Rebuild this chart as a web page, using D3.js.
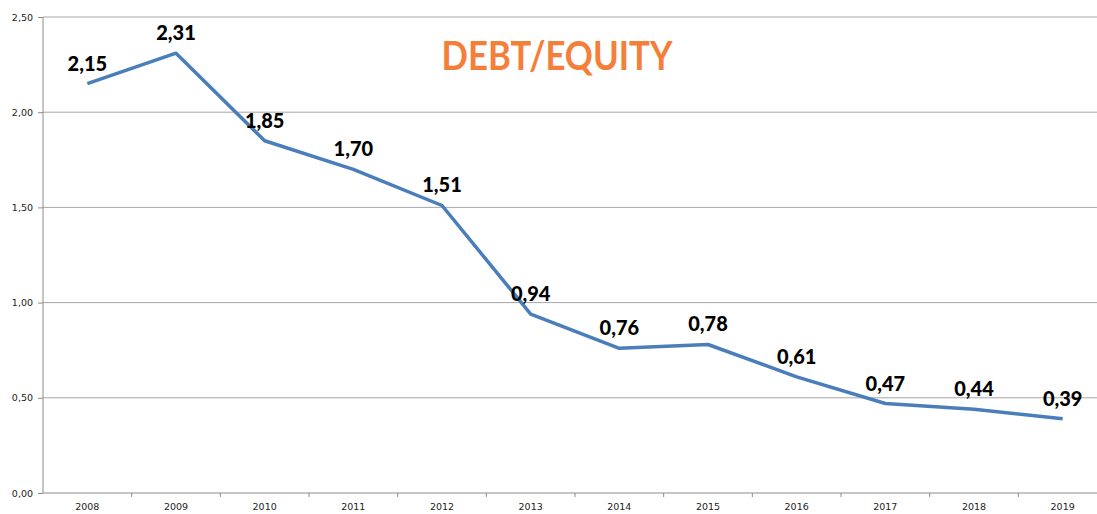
<!doctype html>
<html lang="en">
<head>
  <meta charset="UTF-8">
  <title>Debt/Equity</title>
  <script src="https://cdn.jsdelivr.net/npm/d3@7"></script>
  <style>
    body { margin: 0; background: #fff; }
    .axis text { font-family: "DejaVu Sans", sans-serif; font-size: 9.5px; fill: #222; }
    .axis path, .axis line { stroke: #8c8c8c; }
  </style>
</head>
<body>
<svg width="1097" height="514" id="chart"></svg>
<script>
  var years = ['2008', '2009', '2010', '2011', '2012', '2013', '2014', '2015', '2016', '2017', '2018', '2019'];
  var ratio = [2.15, 2.31, 1.85, 1.70, 1.51, 0.94, 0.76, 0.78, 0.61, 0.47, 0.44, 0.39];
  var yTicks = [0, 0.5, 1, 1.5, 2, 2.5];

  (function () {
    var svg = d3.select('#chart'),
      margin = {top: 17, right: -10, bottom: 21, left: 43},
      width = +svg.attr('width') - margin.left - margin.right,
      height = +svg.attr('height') - margin.top - margin.bottom;

    var x = d3.scaleBand().domain(years).range([0, width]),
      y = d3.scaleLinear().domain([0, 2.5]).range([height, 0]);
    var fmt = function (v) { return d3.format('.2f')(v).replace('.', ','); };

    var g = svg.append('g').attr('transform', 'translate(' + margin.left + ',' + margin.top + ')');

    // gridlines
    g.selectAll('.grid').data(yTicks.slice(1)).enter().append('line')
      .attr('x1', 0).attr('x2', width)
      .attr('y1', function (d) { return y(d); })
      .attr('y2', function (d) { return y(d); })
      .attr('stroke', '#a6a6a6').attr('stroke-width', 1);

    var yAxis = g.append('g').attr('class', 'axis')
      .call(d3.axisLeft(y).tickValues(yTicks).tickFormat(fmt).tickSize(5).tickPadding(5));
    yAxis.select('.domain').attr('d', 'M0,0V' + height);

    var xAxis = g.append('g').attr('class', 'axis')
      .attr('transform', 'translate(0,' + height + ')')
      .call(d3.axisBottom(x).tickSize(0).tickPadding(10));
    xAxis.select('.domain').attr('d', 'M0,0H' + width);
    // category separators
    xAxis.selectAll('.sep').data(years.slice(1)).enter().append('line')
      .attr('x1', function (d) { return x(d); })
      .attr('x2', function (d) { return x(d); })
      .attr('y1', 0).attr('y2', 4)
      .attr('stroke', '#8c8c8c');

    var line = d3.line()
      .x(function (d, i) { return x(years[i]) + x.bandwidth() / 2; })
      .y(function (d) { return y(d); });

    g.append('path').datum(ratio)
      .attr('d', line)
      .attr('fill', 'none')
      .attr('stroke', '#4a7ebb')
      .attr('stroke-width', 3.5)
      .attr('stroke-linejoin', 'round');

    g.selectAll('.lbl').data(ratio).enter().append('text')
      .attr('x', function (d, i) { return x(years[i]) + x.bandwidth() / 2; })
      .attr('y', function (d) { return y(d) - 13; })
      .attr('text-anchor', 'middle')
      .attr('font-family', 'Lato, sans-serif')
      .attr('font-weight', '900')
      .attr('font-size', '20px')
      .attr('fill', '#000')
      .text(fmt);

    svg.append('text')
      .attr('x', 557)
      .attr('y', 70)
      .attr('text-anchor', 'middle')
      .attr('font-family', 'Lato, sans-serif')
      .attr('font-weight', 'bold')
      .attr('font-size', '41px')
      .attr('textLength', 231)
      .attr('lengthAdjust', 'spacingAndGlyphs')
      .attr('fill', '#f47f3a')
      .text('DEBT/EQUITY');
  })();
</script>
</body>
</html>
